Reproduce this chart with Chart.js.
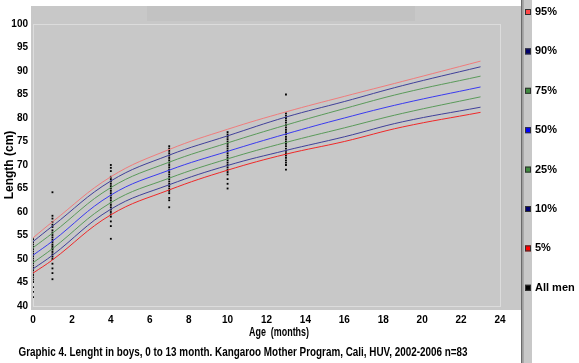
<!DOCTYPE html>
<html>
<head>
<meta charset="utf-8">
<script src="https://cdn.jsdelivr.net/npm/chart.js@4.4.1/dist/chart.umd.min.js"></script>
<style>
  html, body { margin: 0; padding: 0; background: #fff; }
  #wrap { width: 579px; height: 363px; }
</style>
</head>
<body>
<div id="wrap"><canvas id="lengthChart" width="579" height="363"></canvas></div>
<script>
// percentile curves (age in months -> length cm)
const ages = [0, 1, 4, 7, 10, 13, 16, 19, 23];
const p95 = [54.5, 57.9, 67.5, 73.3, 77.6, 81.3, 84.6, 87.8, 92.1];
const p90 = [53.7, 57.0, 66.6, 72.1, 76.2, 80.2, 83.5, 86.9, 90.9];
const p75 = [52.4, 55.5, 65.2, 70.6, 74.7, 78.5, 82.0, 85.3, 88.9];
const p50 = [50.8, 53.8, 63.6, 68.9, 72.9, 76.6, 80.0, 83.1, 86.6];
const p25 = [49.2, 52.2, 62.0, 67.2, 71.3, 74.8, 77.9, 81.0, 84.5];
const p10 = [47.9, 50.8, 60.6, 65.8, 69.9, 73.1, 76.0, 79.2, 82.3];
const p5  = [47.0, 49.8, 59.4, 64.7, 68.9, 72.3, 75.0, 78.1, 81.2];

// measured boys, per visit age
const visitAges = [0, 1, 4, 7, 10, 13];
const len0 = [54.2, 53.6, 53.1, 52.6, 52.1, 51.6, 51.1, 50.6, 50.1, 49.6, 49.1, 48.6, 48.1, 47.6, 47.1, 46.6, 46.1, 45.6, 45.1, 44.0, 43.0, 41.9];
const len1 = [64.2, 59.2, 58.6, 57.9, 57.3, 56.8, 56.1, 55.6, 55.1, 54.6, 54.1, 53.6, 53.1, 52.7, 52.3, 52.0, 51.5, 51.0, 50.5, 50.0, 49.0, 48.0, 47.0, 45.7];
const len4 = [70.0, 69.4, 68.7, 67.5, 67.0, 66.5, 66.0, 65.5, 65.0, 64.5, 64.0, 63.5, 63.0, 62.5, 62.0, 61.5, 61.0, 60.5, 60.0, 59.5, 59.0, 58.0, 57.0, 54.3];
const len7 = [74.0, 73.5, 73.0, 72.5, 72.0, 71.5, 71.0, 70.5, 70.0, 69.5, 69.0, 68.5, 68.0, 67.5, 67.0, 66.5, 66.0, 65.5, 65.0, 64.5, 64.0, 63.0, 62.5, 61.0];
const len10 = [77.0, 76.5, 76.0, 75.5, 75.0, 74.5, 74.0, 73.5, 73.0, 72.5, 72.0, 71.5, 71.0, 70.5, 70.0, 69.5, 69.0, 68.5, 68.0, 67.0, 66.0, 65.0];
const len13 = [85.0, 81.0, 80.5, 80.0, 79.5, 79.0, 78.5, 78.0, 77.5, 77.0, 76.5, 76.0, 75.5, 75.0, 74.5, 74.0, 73.5, 73.0, 72.5, 72.0, 71.5, 71.0, 70.5, 70.0, 69.0];

const xTicks = [0, 2, 4, 6, 8, 10, 12, 14, 16, 18, 20, 22, 24];
const yTicks = [40, 45, 50, 55, 60, 65, 70, 75, 80, 85, 90, 95, 100];

const legendLabels = ['95%', '90%', '75%', '50%', '25%', '10%', '5%', 'All men'];
const lineColors = ['#f07c7c', '#40409a', '#5a9a5a', '#3a3af0', '#5a9a5a', '#40409a', '#f02828', '#000000'];
const boxColors = ['#ff4848', '#00006e', '#3f8a3f', '#0000ff', '#3f8a3f', '#00006e', '#ff0000', '#000000'];
const xTitle = 'Age  (months)';
const caption = 'Graphic 4. Lenght in boys, 0 to 13 month. Kangaroo Mother Program, Cali, HUV, 2002-2006 n=83';

const lengthCols = [len0, len1, len4, len7, len10, len13];
let boys = [];
lengthCols.forEach((col, i) => {
    col.forEach(v => boys.push({ x: visitAges[i], y: v }));
});

const curves = [p95, p90, p75, p50, p25, p10, p5];
let datasets = curves.map((c, i) => ({
    label: legendLabels[i],
    data: c.map((v, j) => ({ x: ages[j], y: v })),
    showLine: true,
    borderColor: lineColors[i],
    backgroundColor: lineColors[i],
    borderWidth: 1,
    pointRadius: 0,
    tension: 0.4
}));
datasets.push({
    label: legendLabels[7],
    data: boys,
    showLine: false,
    pointStyle: 'rect',
    pointRadius: 1.3,
    borderWidth: 0,
    backgroundColor: '#000',
    borderColor: '#000'
});

const FONT = "'Liberation Sans', Arial, sans-serif";

// grey panels behind the plot
const panelPlugin = {
    id: 'panels',
    beforeDraw(chart) {
        const ctx = chart.ctx;
        const a = chart.chartArea;
        ctx.save();
        ctx.fillStyle = '#c8c8c8';
        ctx.fillRect(31, 6, 490, 304);
        ctx.fillStyle = '#c2c2c2';
        ctx.fillRect(147, 6, 268, 15);
        // legend strip
        ctx.fillStyle = '#c8c8c8';
        ctx.fillRect(523, 0, 9, 363);
        ctx.fillStyle = '#6a6a6a';
        ctx.fillRect(521, 0, 1.5, 363);
        ctx.fillStyle = '#8a8a8a';
        ctx.fillRect(522.5, 0, 1, 363);
        // light frame of plot
        ctx.strokeStyle = '#dcdcdc';
        ctx.lineWidth = 1;
        ctx.strokeRect(a.left + 0.5, a.top + 0.5, a.right - a.left, a.bottom - a.top);
        ctx.restore();
    }
};

// legend down the right side, x title and caption (narrow type)
const sideLegend = {
    id: 'sideLegend',
    afterDraw(chart) {
        const ctx = chart.ctx;
        ctx.save();
        ctx.font = 'bold 11px ' + FONT;
        ctx.textBaseline = 'middle';
        ctx.textAlign = 'left';
        chart.data.datasets.forEach((ds, i) => {
            const y = 12 + i * 39.4;
            ctx.fillStyle = boxColors[i];
            ctx.fillRect(525, y - 3, 6, 6);
            ctx.strokeStyle = '#303030';
            ctx.lineWidth = 1;
            ctx.strokeRect(525.5, y - 2.5, 5, 5);
            ctx.fillStyle = '#000';
            ctx.fillText(ds.label, 535, y);
        });
        ctx.textAlign = 'center';
        ctx.font = 'bold 12px ' + FONT;
        ctx.fillText(xTitle, 279, 333, 60);
        ctx.fillText(caption, 243, 353, 449);
        ctx.restore();
    }
};

new Chart(document.getElementById('lengthChart'), {
    type: 'scatter',
    data: { datasets },
    plugins: [panelPlugin, sideLegend],
    options: {
        responsive: false,
        animation: false,
        layout: { padding: { left: 0, right: 79, top: 24, bottom: 23 } },
        plugins: {
            legend: { display: false },
            tooltip: { enabled: false }
        },
        scales: {
            x: {
                type: 'linear',
                min: 0,
                max: 24,
                afterBuildTicks: s => { s.ticks = xTicks.map(v => ({ value: v })); },
                afterFit: s => { s.height = 34; },
                grid: { display: false, drawTicks: false },
                border: { display: false },
                ticks: { color: '#000', padding: 8, font: { family: FONT, size: 10, weight: 'bold' } },
                title: { display: false }
            },
            y: {
                type: 'linear',
                min: 40,
                max: 100,
                afterBuildTicks: s => { s.ticks = yTicks.map(v => ({ value: v })); },
                afterFit: s => { s.width = 33; },
                grid: { display: false, drawTicks: false },
                border: { display: false },
                ticks: { color: '#000', padding: 5, font: { family: FONT, size: 10, weight: 'bold' } },
                title: {
                    display: true,
                    text: 'Length (cm)',
                    color: '#000',
                    font: { family: FONT, size: 12, weight: 'bold' },
                    padding: { top: 2, bottom: 0 }
                }
            }
        }
    }
});
</script>
</body>
</html>
